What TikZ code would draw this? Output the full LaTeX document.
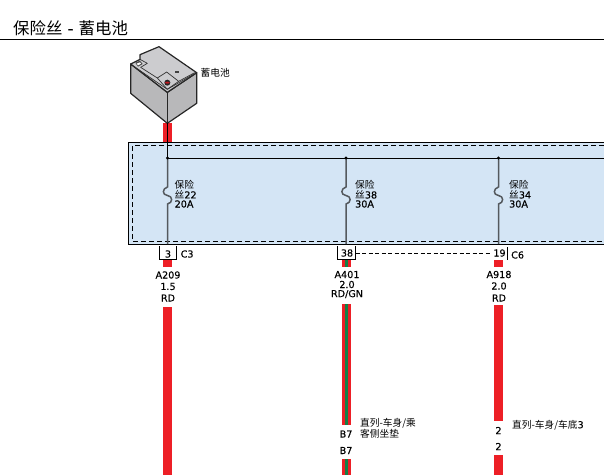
\documentclass[tikz,border=0pt]{standalone}
\usepackage{fontspec}
\setmainfont[FakeBold=0.25]{DejaVu Sans}
\newfontfamily\cjk{Noto Sans CJK SC}
\newfontfamily\djv[FakeBold=0.25]{DejaVu Sans}
\usetikzlibrary{calc}
\definecolor{efqqtt}{rgb}{0.93,0.12,0.15}
\definecolor{qqttqq}{rgb}{0.08,0.50,0.28}
\definecolor{dddqff}{rgb}{0.83,0.90,0.96}
\definecolor{bbbbbb}{rgb}{0.72,0.72,0.73}
\definecolor{ccccdd}{rgb}{0.80,0.80,0.81}
\definecolor{fusegr}{rgb}{0.33,0.35,0.37}
\tikzset{
  redwire/.style={line width=9pt,color=efqqtt},
  greenwire/.style={line width=3.3pt,color=qqttqq},
  fusewire/.style={line width=1.5pt,color=fusegr},
  busline/.style={line width=0.9pt,color=black},
  batline/.style={line width=1.2pt,draw=black!85,line join=round},
  batthin/.style={line width=0.7pt,draw=black!80,line join=round},
  lbl/.style={font=\fontsize{9.6}{10}\selectfont,inner sep=0pt,anchor=west},
  wirelbl/.style={font=\fontsize{9.6}{10}\selectfont,inner sep=0pt,anchor=center},
  cjklbl/.style={font=\fontsize{9.7}{10}\selectfont\cjk,inner sep=0pt,anchor=west}
}
\begin{document}
\begin{tikzpicture}[line cap=butt,line join=miter,x=1pt,y=-1pt]
        \useasboundingbox (0,0) rectangle (604,475);
        \clip (0,0) rectangle (604,475);
        % title
        \node[inner sep=0pt,anchor=west,font=\fontsize{16.4}{17}\selectfont\cjk] (title) at (13,28) {保险丝{\djv{} - }蓄电池};
        \coordinate (ruleL) at (0,39.5);
        \coordinate (ruleR) at (604,39.5);
        \draw[line width=0.9pt] (ruleL) -- (ruleR);
        % wires above the labels
        \coordinate (batwireA) at (167.5,123);
        \coordinate (batwireB) at (167.5,142);
        \draw[redwire] (batwireA) -- (batwireB);
        % fuse box
        \fill[dddqff] (128.5,142.5) rectangle (604,244);
        \draw[line width=0.9pt] (604,142.5) -- (128.5,142.5) -- (128.5,244) -- (604,244);
        \draw[line width=0.7pt,dash pattern=on 5pt off 3pt] (604,145.5) -- (132.5,145.5) -- (132.5,241.5) -- (604,241.5);
        % battery
        \begin{scope}[shift={(120,40)},x=0.3333pt,y=-0.3333pt]
            \filldraw[fill=bbbbbb,batline] (32,72) -- (32,160) -- (142,250) -- (230,190) -- (230,98) -- (142,157) -- cycle;
            \filldraw[fill=ccccdd,batline] (32,72) -- (60,58) -- (60,44) -- (117,20) -- (230,98) -- (142,157) -- cycle;
            \draw[batline] (142,157) -- (142,250);
            \draw[batthin] (60,58) -- (82,70) -- (62,82);
            \draw[batthin] (62,82) -- (112,114) -- (140,96) -- (176,124) -- (224,98);
            \draw[batthin] (40,78) -- (142,148) -- (222,102);
            \draw[batthin] (112,114) -- (142,148) -- (176,124);
            \fill[black!70] (46,68) -- (60,62) -- (68,72) -- (54,80) -- cycle;
            \fill[white] (50,71) -- (60,67) -- (63,71) -- (54,76) -- cycle;
            \fill[black!85] (142,128) circle (9);
            \fill[efqqtt!80!black] (142,128) ellipse (7 and 3);
            \fill[black!75] (164,94) rectangle (176,99);
        \end{scope}
        \node[cjklbl] (batlbl) at (200.5,73) {蓄电池};
        \coordinate (batfoot) at (167.5,123);
        \coordinate (busL) at (167.5,158);
        \coordinate (busM) at (346,158);
        \coordinate (busN) at (498.5,158);
        \coordinate (busR) at (604,158);
        \draw[busline] (batfoot) -- (busL);
        \draw[busline] (busL) -- (busR);
        % fuse 22
        \coordinate (fuseAt) at (167.5,187);
        \coordinate (fuseAb) at (167.5,204);
        \coordinate (fuseAe) at (167.5,244);
        \draw[fusewire] (busL) -- (fuseAt) .. controls (162,188.5) and (162,195) .. (167.5,195.5) .. controls (173,196) and (173,203) .. (fuseAb) -- (fuseAe);
        \fill (busL) circle (1.7);
        \node[cjklbl] (fuseAa) at (174.5,184.5) {保险};
        \node[cjklbl] (fuseAn) at (174.5,194.5) {丝{\djv\fontsize{9.6}{10}\selectfont 22}};
        \node[lbl] (fuseAv) at (174.5,204) {20A};
        % fuse 38
        \coordinate (fuseBt) at (346,187);
        \coordinate (fuseBb) at (346,204);
        \coordinate (fuseBe) at (346,244);
        \draw[fusewire] (busM) -- (fuseBt) .. controls (340.5,188.5) and (340.5,195) .. (346,195.5) .. controls (351.5,196) and (351.5,203) .. (fuseBb) -- (fuseBe);
        \fill (busM) circle (1.7);
        \node[cjklbl] (fuseBa) at (355,184.5) {保险};
        \node[cjklbl] (fuseBn) at (355,194.5) {丝{\djv\fontsize{9.6}{10}\selectfont 38}};
        \node[lbl] (fuseBv) at (355,204) {30A};
        % fuse 34
        \coordinate (fuseCt) at (498.5,187);
        \coordinate (fuseCb) at (498.5,204);
        \coordinate (fuseCe) at (498.5,244);
        \draw[fusewire] (busN) -- (fuseCt) .. controls (493,188.5) and (493,195) .. (498.5,195.5) .. controls (504,196) and (504,203) .. (fuseCb) -- (fuseCe);
        \fill (busN) circle (1.7);
        \node[cjklbl] (fuseCa) at (509,184.5) {保险};
        \node[cjklbl] (fuseCn) at (509,194.5) {丝{\djv\fontsize{9.6}{10}\selectfont 34}};
        \node[lbl] (fuseCv) at (509,204) {30A};
        % pins
        \draw[line width=0.7pt] (159.5,246) -- (159.5,259.5) -- (176.5,259.5) -- (176.5,246);
        \node[wirelbl] (pinA) at (168,254) {3};
        \node[lbl] (connA) at (180.5,254) {C3};
        \draw[line width=0.7pt] (337.5,246) -- (337.5,259.5) -- (355.5,259.5) -- (355.5,246);
        \node[wirelbl] (pinB) at (347,253) {38};
        \node[wirelbl] (pinC) at (499.5,253) {19};
        \draw[line width=0.7pt] (507.5,247) -- (507.5,260);
        \node[lbl] (connC) at (511,255) {C6};
        \coordinate (dashL) at (355.5,253);
        \coordinate (dashR) at (490,253);
        \draw[line width=0.7pt,dash pattern=on 4pt off 2.5pt] (dashL) -- (dashR);
        % stubs and wires
        \coordinate (stubAt) at (167.8,260);
        \coordinate (stubAb) at (167.8,267);
        \coordinate (stubBt) at (346.5,260);
        \coordinate (stubBb) at (346.5,267);
        \coordinate (stubCt) at (498.5,260);
        \coordinate (stubCb) at (498.5,267);
        \draw[redwire] (stubAt) -- (stubAb);
        \draw[redwire] (stubBt) -- (stubBb);
        \draw[greenwire] (stubBt) -- (stubBb);
        \draw[redwire] (stubCt) -- (stubCb);
        \node[wirelbl] (codeA) at (168,275) {A209};
        \node[wirelbl] (sizeA) at (168,286.5) {1.5};
        \node[wirelbl] (colA) at (168,298) {RD};
        \node[wirelbl] (codeB) at (347,274.5) {A401};
        \node[wirelbl] (sizeB) at (347,284.5) {2.0};
        \node[wirelbl] (colB) at (347,294) {RD/GN};
        \node[wirelbl] (codeC) at (499,274.5) {A918};
        \node[wirelbl] (sizeC) at (499,286) {2.0};
        \node[wirelbl] (colC) at (499,298) {RD};
        \coordinate (wireAt) at (167.8,307);
        \coordinate (wireAb) at (167.8,475);
        \coordinate (wireBt) at (346.5,304);
        \coordinate (wireBb) at (346.5,425);
        \coordinate (wireBu) at (346.5,459);
        \coordinate (wireBv) at (346.5,475);
        \coordinate (wireCt) at (498.5,305);
        \coordinate (wireCb) at (498.5,421);
        \coordinate (wireCu) at (498.5,455);
        \coordinate (wireCv) at (498.5,475);
        \draw[redwire] (wireAt) -- (wireAb);
        \draw[redwire] (wireBt) -- (wireBb);
        \draw[greenwire] (wireBt) -- (wireBb);
        \draw[redwire] (wireBu) -- (wireBv);
        \draw[greenwire] (wireBu) -- (wireBv);
        \draw[redwire] (wireCt) -- (wireCb);
        \draw[redwire] (wireCu) -- (wireCv);
        % inline connectors
        \node[wirelbl] (inlineBa) at (346,434) {B7};
        \node[wirelbl] (inlineBb) at (346,450.5) {B7};
        \node[wirelbl] (inlineCa) at (498.5,430.5) {2};
        \node[wirelbl] (inlineCb) at (498.5,446.5) {2};
        \node[cjklbl] (noteBa) at (360,423.5) {直列-车身/乘};
        \node[cjklbl] (noteBb) at (360,433.5) {客侧坐垫};
        \node[cjklbl] (noteC) at (512,425) {直列-车身/车底{\djv\fontsize{9.6}{10}\selectfont 3}};
\end{tikzpicture}
\end{document}
